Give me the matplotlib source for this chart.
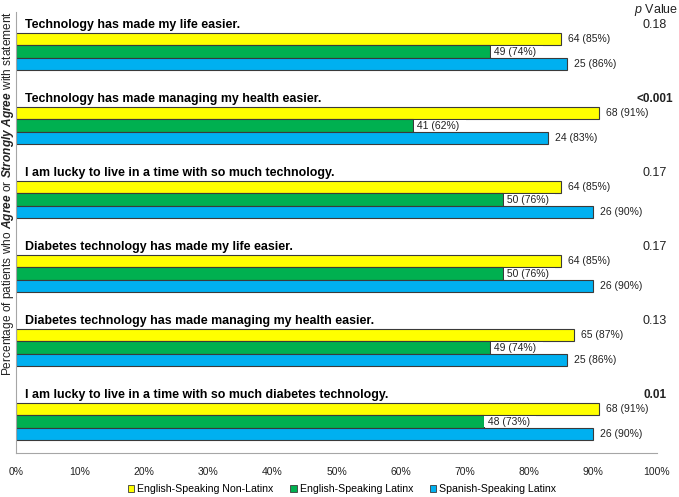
import numpy as np
import matplotlib.pyplot as plt
import matplotlib.transforms as mtransforms
from matplotlib.patches import Patch

plt.rcParams['font.family'] = ['Liberation Sans', 'DejaVu Sans']
plt.rcParams['mathtext.fontset'] = 'custom'
plt.rcParams['mathtext.rm'] = 'Liberation Sans'
plt.rcParams['mathtext.it'] = 'Liberation Sans:italic'
plt.rcParams['mathtext.bf'] = 'Liberation Sans:bold:italic'

statements = [
    'Technology has made my life easier.',
    'Technology has made managing my health easier.',
    'I am lucky to live in a time with so much technology.',
    'Diabetes technology has made my life easier.',
    'Diabetes technology has made managing my health easier.',
    'I am lucky to live in a time with so much diabetes technology.',
]
groups = ['English-Speaking Non-Latinx', 'English-Speaking Latinx', 'Spanish-Speaking Latinx']
colors = ['#FFFF00', '#00B050', '#00B0F0']

pct_nonlatinx = [85, 91, 85, 85, 87, 91]
pct_eng_latinx = [74, 62, 76, 76, 74, 73]
pct_spa_latinx = [86, 83, 90, 90, 86, 90]
n_nonlatinx = [64, 68, 64, 64, 65, 68]
n_eng_latinx = [49, 41, 50, 50, 49, 48]
n_spa_latinx = [25, 24, 26, 26, 25, 26]

p_values = ['0.18', '<0.001', '0.17', '0.17', '0.13', '0.01']
p_bold = [False, True, False, False, False, True]

pcts = [pct_nonlatinx, pct_eng_latinx, pct_spa_latinx]
counts = [n_nonlatinx, n_eng_latinx, n_spa_latinx]

fig = plt.figure(figsize=(6.79, 4.97), dpi=100)
ax = fig.add_axes([16/679, 1 - 453/497, 641/679, 441/497])

period = 5.92
first = 2.18
for i in range(len(statements)):
    y0 = first + period * i
    for j in range(3):
        y = y0 + j
        v = pcts[j][i]
        ax.barh(y, v, height=1.0, color=colors[j], edgecolor='#3a3a3a', linewidth=0.8, zorder=2)
        lab = f'{counts[j][i]} ({v}%)'
        if j == 1:
            ax.text(v + 0.15, y, ' ' + lab + '  ', va='center', ha='left', fontsize=7.5,
                    color='#222222', zorder=3,
                    bbox=dict(facecolor='white', edgecolor='none', pad=0.3))
        else:
            ax.text(v + 1.1, y, lab, va='center', ha='left', fontsize=7.5, color='#222222', zorder=3)
    ax.text(1.4, y0 - 1.1, statements[i], va='center', ha='left', fontsize=8.9,
            fontweight='bold', color='black')

trans = mtransforms.blended_transform_factory(fig.transFigure, ax.transData)
for i, p in enumerate(p_values):
    y0 = first + period * i
    ax.text(655/679, y0 - 1.12, p, transform=trans, ha='center', va='center',
            fontsize=8.5 if p_bold[i] else 9,
            fontweight='bold' if p_bold[i] else 'normal', color='#222222', clip_on=False)
fig.text(656/679, 1 - 10/497, r'$\it{p}$ Value', ha='center', va='center', fontsize=9, color='#222222')

ax.set_xlim(0, 100)
ax.set_ylim(441/12.5, 0)
ax.set_yticks([])
ax.set_xticks(np.arange(0, 101, 10))
ax.set_xticklabels([f'{t}%' for t in range(0, 101, 10)], fontsize=7.5, color='#222222')
ax.tick_params(axis='x', length=0, pad=10)
for s in ['top', 'right']:
    ax.spines[s].set_visible(False)
for s in ['left', 'bottom']:
    ax.spines[s].set_color('#a6a6a6')
    ax.spines[s].set_linewidth(0.8)

fig.text(8/679, 1 - 194/497,
         r'Percentage of patients who $\mathbf{Agree}$ or $\mathbf{Strongly\ Agree}$ with statement',
         rotation=90, ha='center', va='center', fontsize=8.6, color='#222222')

handles = [Patch(facecolor=c, edgecolor='#3a3a3a', linewidth=0.6) for c in colors]
fig.legend(handles, groups, loc='center', bbox_to_anchor=(342/679, 1 - 489/497), ncol=3,
           frameon=False, fontsize=7.6, handlelength=0.6, handleheight=0.6, handletextpad=0.3,
           columnspacing=1.6, borderpad=0)

fig.savefig('out.png', dpi=100)
